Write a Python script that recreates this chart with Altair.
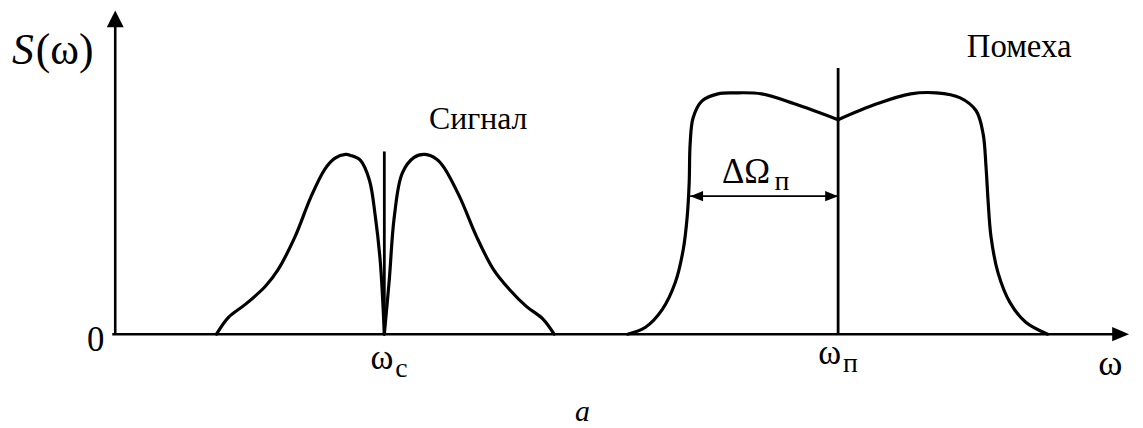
import altair as alt
import pandas as pd

# ---- data (omega, S) ----
sig_left_w = [1.02, 1.14, 1.31, 1.51, 1.64, 1.81, 1.97, 2.11, 2.21, 2.32, 2.37, 2.47, 2.56, 2.62, 2.67, 2.71]
sig_left_s = [0.00, 0.17, 0.30, 0.48, 0.65, 0.98, 1.38, 1.66, 1.77, 1.81, 1.80, 1.75, 1.55, 1.18, 0.72, 0.00]
sig_right_w = [2.71, 2.76, 2.81, 2.89, 3.01, 3.12, 3.24, 3.31, 3.47, 3.64, 3.81, 3.97, 4.14, 4.31, 4.42]
sig_right_s = [0.00, 0.55, 1.18, 1.62, 1.78, 1.81, 1.76, 1.68, 1.38, 0.98, 0.65, 0.45, 0.28, 0.15, 0.00]

noise_left_w = [5.16, 5.34, 5.51, 5.64, 5.72, 5.76, 5.78, 5.79, 5.82, 5.91, 6.07, 6.24, 6.51, 6.84, 7.28]
noise_left_s = [0.00, 0.07, 0.25, 0.52, 0.85, 1.18, 1.52, 1.92, 2.18, 2.35, 2.42, 2.43, 2.42, 2.32, 2.16]
noise_right_w = [7.28, 7.67, 8.01, 8.27, 8.51, 8.67, 8.74, 8.77, 8.79, 8.82, 8.89, 9.01, 9.17, 9.39]
noise_right_s = [2.16, 2.32, 2.42, 2.43, 2.38, 2.25, 2.02, 1.68, 1.35, 0.98, 0.62, 0.32, 0.12, 0.00]

# carrier lines (omega, top)
carrier_w = [2.71, 7.28]
carrier_top = [1.84, 2.68]

# bandwidth arrow
band_from, band_to, band_level = 5.79, 7.28, 1.39

# axes extent
x_axis_end, y_axis_end = 10.06, 3.11
x_tip, y_tip = 10.21, 3.26

FONT = "Times New Roman, Liberation Serif, serif"

X = alt.Scale(domain=[-1.08, 10.27], nice=False, zero=False)
Y = alt.Scale(domain=[-0.93, 3.27], nice=False, zero=False)

rows = []
for seg, ws, ss in [("sL", sig_left_w, sig_left_s), ("sR", sig_right_w, sig_right_s),
                    ("nL", noise_left_w, noise_left_s), ("nR", noise_right_w, noise_right_s)]:
    for i, (w, s) in enumerate(zip(ws, ss)):
        rows.append({"seg": seg, "i": i, "w": w, "s": s})
curves_df = pd.DataFrame(rows)

curves = alt.Chart(curves_df).mark_line(
    color="black", strokeWidth=3.2, interpolate="catmull-rom", strokeCap="round", strokeJoin="round"
).encode(
    x=alt.X("w:Q", scale=X, axis=None),
    y=alt.Y("s:Q", scale=Y, axis=None),
    detail="seg:N",
    order="i:Q",
)

carriers = alt.Chart(pd.DataFrame({"w": carrier_w, "top": carrier_top, "b": [0, 0]})).mark_rule(
    color="black", strokeWidth=2.8
).encode(
    x=alt.X("w:Q", scale=X, axis=None),
    y=alt.Y("b:Q", scale=Y, axis=None),
    y2="top:Q",
)

axes_df = pd.DataFrame({"x1": [0.0, -0.03], "x2": [0.0, x_axis_end], "y1": [0.0, 0.0], "y2": [y_axis_end, 0.0]})
axes = alt.Chart(axes_df).mark_rule(color="black", strokeWidth=2.6).encode(
    x=alt.X("x1:Q", scale=X, axis=None), x2="x2:Q",
    y=alt.Y("y1:Q", scale=Y, axis=None), y2="y2:Q",
)

band = alt.Chart(pd.DataFrame({"a": [band_from], "b": [band_to], "y": [band_level]})).mark_rule(
    color="black", strokeWidth=1.6
).encode(
    x=alt.X("a:Q", scale=X, axis=None), x2="b:Q", y=alt.Y("y:Q", scale=Y, axis=None)
)


def head(w, s, path, size):
    return alt.Chart(pd.DataFrame({"w": [w], "s": [s]})).mark_point(
        shape=path, size=size, filled=True, opacity=1, color="black", strokeWidth=0
    ).encode(x=alt.X("w:Q", scale=X, axis=None), y=alt.Y("s:Q", scale=Y, axis=None))


heads = [
    head(0.0, y_tip, "M0,0 L-0.5,1 L0.5,1 Z", 1156),
    head(x_tip, 0.0, "M0,0 L-1,-0.42 L-1,0.42 Z", 1156),
    head(band_from, band_level, "M0,0 L1,-0.4 L1,0.4 Z", 676),
    head(band_to, band_level, "M0,0 L-1,-0.4 L-1,0.4 Z", 676),
]

label_text = ["S", "(ω)", "0", "ω", "с", "ω", "п", "ω", "a", "Сигнал", "Помеха", "ΔΩ", "п"]
label_w = [-1.04, -0.80, -0.11, 2.57, 2.82, 7.08, 7.33, 9.90, 4.63, 3.16, 9.63, 6.11, 6.64]
label_s = [2.72, 2.72, -0.17, -0.35, -0.43, -0.30, -0.38, -0.41, -0.87, 2.07, 2.79, 1.52, 1.45]
label_size = [44, 44, 35, 35, 28, 35, 28, 37, 30, 32, 33, 35, 28]
label_style = ["italic", "normal", "normal", "normal", "normal", "normal", "normal", "normal",
               "italic", "normal", "normal", "normal", "normal"]
label_align = ["left", "left", "right", "left", "left", "left", "left", "left", "left", "left",
               "right", "left", "left"]

texts = []
for t, w, s, fs, st, al in zip(label_text, label_w, label_s, label_size, label_style, label_align):
    texts.append(
        alt.Chart(pd.DataFrame({"w": [w], "s": [s], "t": [t]})).mark_text(
            font=FONT, fontSize=fs, fontStyle=st, align=al, baseline="alphabetic", color="black"
        ).encode(x=alt.X("w:Q", scale=X, axis=None), y=alt.Y("s:Q", scale=Y, axis=None), text="t:N")
    )

chart = alt.layer(axes, curves, carriers, band, *heads, *texts).properties(
    width=1135, height=420, autosize=alt.AutoSizeParams(type="none"), padding=0
).configure_view(stroke=None)

chart.save("out.html", embed_options={"renderer": "svg", "actions": False})
